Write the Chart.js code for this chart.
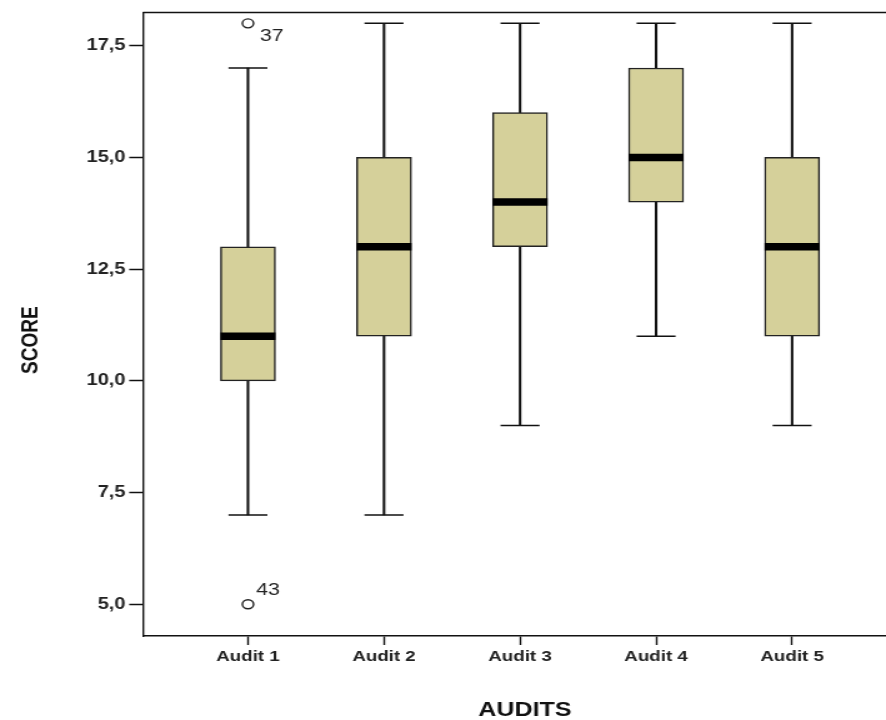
<!DOCTYPE html>
<html>
<head>
<meta charset="utf-8">
<script src="https://cdn.jsdelivr.net/npm/chart.js@4/dist/chart.umd.min.js"></script>
<style>
  html, body { margin: 0; padding: 0; background: #fff; overflow: hidden; }
  /* the reference is a horizontally stretched export, so stretch the same way */
  #wrap { width: 709px; height: 720px; transform: scaleX(1.2496); transform-origin: 0 0; }
</style>
</head>
<body>
<div id="wrap"><canvas id="boxChart"></canvas></div>
<script>
// data
const audits = ['Audit 1', 'Audit 2', 'Audit 3', 'Audit 4', 'Audit 5'];
const minVals = [7, 7, 9, 11, 9];
const q1Vals = [10, 11, 13, 14, 11];
const medianVals = [11, 13, 14, 15, 13];
const q3Vals = [13, 15, 16, 17, 15];
const maxVals = [17, 18, 18, 18, 18];
const outlierAudit = [1, 1];
const outlierValues = [18, 5];
const outlierIds = ['37', '43'];
const yTicks = [5, 7.5, 10, 12.5, 15, 17.5];

const pos = audits.map((a, i) => i + 1);
const boxFill = '#d5d09a';
const ink = '#111';
const font = 'Liberation Sans, Arial, sans-serif';

const outlierLabels = {
    id: 'outlierLabels',
    afterDatasetsDraw(chart) {
        const ctx = chart.ctx;
        const meta = chart.getDatasetMeta(5);
        ctx.save();
        ctx.font = '17px ' + font;
        ctx.fillStyle = '#222';
        ctx.textBaseline = 'middle';
        meta.data.forEach((pt, i) => {
            const above = outlierValues[i] < medianVals[outlierAudit[i] - 1];
            ctx.fillText(outlierIds[i], pt.x + (above ? 6.5 : 9.5), pt.y + (above ? -14 : 13));
        });
        ctx.restore();
    }
};

const topFrame = {
    id: 'topFrame',
    afterDraw(chart) {
        const { ctx, chartArea } = chart;
        ctx.save();
        ctx.strokeStyle = ink;
        ctx.lineWidth = 1.5;
        ctx.beginPath();
        ctx.moveTo(chartArea.left, chartArea.top);
        ctx.lineTo(chartArea.right, chartArea.top);
        ctx.stroke();
        ctx.restore();
    }
};

new Chart(document.getElementById('boxChart'), {
    type: 'bar',
    data: {
        datasets: [
            {
                label: 'lower whisker',
                data: pos.map((x, i) => ({ x: x, y: [minVals[i], q1Vals[i]] })),
                backgroundColor: ink,
                barThickness: 1.4,
                grouped: false,
                order: 6
            },
            {
                label: 'upper whisker',
                data: pos.map((x, i) => ({ x: x, y: [q3Vals[i], maxVals[i]] })),
                backgroundColor: ink,
                barThickness: 1.4,
                grouped: false,
                order: 5
            },
            {
                label: 'box',
                data: pos.map((x, i) => ({ x: x, y: [q1Vals[i], q3Vals[i]] })),
                backgroundColor: boxFill,
                borderColor: '#222',
                borderWidth: 1.5,
                borderSkipped: false,
                barThickness: 44,
                grouped: false,
                order: 4
            },
            {
                type: 'scatter',
                label: 'caps',
                data: pos.flatMap((x, i) => [{ x: x, y: minVals[i] }, { x: x, y: maxVals[i] }]),
                pointStyle: 'line',
                pointRadius: 15.6,
                pointBorderWidth: 1.5,
                borderColor: ink,
                order: 3
            },
            {
                type: 'scatter',
                label: 'median',
                data: pos.map((x, i) => ({ x: x, y: medianVals[i] })),
                pointStyle: 'line',
                pointRadius: 22,
                pointBorderWidth: 7.5,
                borderColor: '#000',
                order: 2
            },
            {
                type: 'scatter',
                label: 'outliers',
                data: outlierAudit.map((x, i) => ({ x: x, y: outlierValues[i] })),
                pointStyle: 'circle',
                pointRadius: 4.5,
                pointBorderWidth: 1.4,
                borderColor: '#222',
                backgroundColor: '#fff',
                order: 1
            }
        ]
    },
    options: {
        responsive: true,
        maintainAspectRatio: false,
        animation: false,
        layout: { autoPadding: false, padding: { top: 11, right: 0, left: 0, bottom: 0 } },
        plugins: {
            legend: { display: false },
            tooltip: { enabled: false }
        },
        scales: {
            x: {
                type: 'linear',
                offset: false,
                min: 0.228,
                max: 5.69,
                afterBuildTicks: scale => { scale.ticks = pos.map(v => ({ value: v })); },
                afterFit: scale => { scale.height = 84; },
                ticks: {
                    callback: v => audits[v - 1],
                    color: '#222',
                    font: { family: font, size: 15, weight: 'bold' },
                    padding: 3,
                    maxRotation: 0
                },
                grid: {
                    offset: false,
                    drawOnChartArea: false,
                    drawTicks: true,
                    tickLength: 9,
                    tickColor: ink,
                    tickWidth: 1.4
                },
                border: { display: true, color: ink, width: 1.5 },
                title: {
                    display: true,
                    text: '   AUDITS',
                    color: '#111',
                    font: { family: font, size: 20, weight: 'bold' },
                    padding: { top: 0, bottom: -2 }
                }
            },
            y: {
                type: 'linear',
                min: 4.29,
                max: 18.24,
                afterBuildTicks: scale => { scale.ticks = yTicks.map(v => ({ value: v })); },
                afterFit: scale => { scale.width = 114.4; },
                ticks: {
                    callback: v => v.toFixed(1).replace('.', ','),
                    color: '#222',
                    font: { family: font, size: 16, weight: 'bold' },
                    padding: 3
                },
                grid: {
                    drawOnChartArea: false,
                    drawTicks: true,
                    tickLength: 11,
                    tickColor: ink,
                    tickWidth: 1.5
                },
                border: { display: true, color: ink, width: 1.4 },
                title: {
                    display: true,
                    text: 'SCORE      ',
                    color: '#111',
                    font: { family: font, size: 19, weight: 'bold' },
                    padding: { top: 13, bottom: 0 }
                }
            }
        }
    },
    plugins: [outlierLabels, topFrame]
});
</script>
</body>
</html>
